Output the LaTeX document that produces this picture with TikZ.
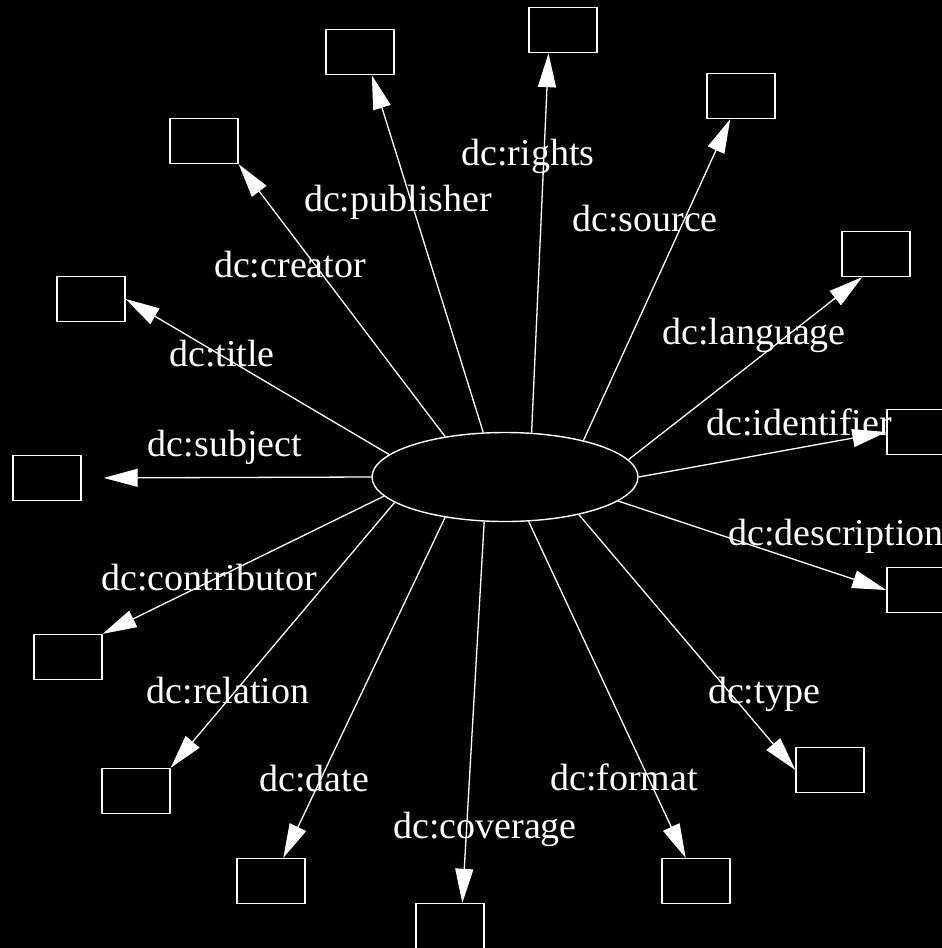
\documentclass[tikz,border=0pt]{standalone}
\usepackage{fontspec}
\setmainfont{Liberation Serif}
\usetikzlibrary{shapes.geometric,arrows.meta}
\begin{document}
\begin{tikzpicture}[x=1pt,y=-1pt,
  box/.style={draw=white,line width=1.4pt,minimum width=68pt,minimum height=45pt,inner sep=0pt},
  conn/.style={draw=white,line width=1.3pt,-{Triangle[length=34pt,width=18pt]}},
  lbl/.style={text=white,font=\fontsize{38}{40}\selectfont,inner sep=0pt,text height=0.7em,text depth=0.2em}]
\useasboundingbox (0,0) rectangle (942,948);
\fill[black] (0,0) rectangle (942,948);
\clip (0,0) rectangle (942,948);

\node[ellipse,draw=white,line width=1.4pt,minimum width=266pt,minimum height=89pt,inner sep=0pt] (e) at (505,477) {};

\node[box] (subj) at (47,478) {};
\node[box] (titl) at (91,299) {};
\node[box] (crea) at (204,141) {};
\node[box] (publ) at (360,52) {};
\node[box] (righ) at (563,30) {};
\node[box] (sour) at (741,96) {};
\node[box] (lang) at (876,254) {};
\node[box] (iden) at (921,432) {};
\node[box] (desc) at (921,590) {};
\node[box] (type) at (830,770) {};
\node[box] (form) at (696,881) {};
\node[box] (cove) at (450,926) {};
\node[box] (date) at (271,881) {};
\node[box] (rela) at (136,791) {};
\node[box] (cont) at (68,657) {};

\draw[conn,shorten >=22pt] (e.west) -- (subj.east);
\draw[conn] (e.169.8) -- (titl.east);
\draw[conn] (e.146.5) -- (crea.south east);
\draw[conn] (e.116.6) -- (publ.297.6);
\draw[conn] (e.59.4) -- (righ.238.7);
\draw[conn] (e.25) -- (sour.245.4);
\draw[conn] (e.8.8) -- (lang.239.7);
\draw[conn] (e.east) -- (iden.west);
\draw[conn] (e.348.2) -- (desc.west);
\draw[conn] (e.333.4) -- (type.west);
\draw[conn] (e.298.5) -- (form.114.6);
\draw[conn] (e.245.5) -- (cove.62.4);
\draw[conn] (e.214.5) -- (date.62.4);
\draw[conn] (e.193.9) -- (rela.north east);
\draw[conn] (e.189.3) -- (cont.north east);

\node[lbl] (lrigh) at (528,163) {dc:rights};
\node[lbl] (lpubl) at (398,209) {dc:publisher};
\node[lbl] (lsour) at (645,229) {dc:source};
\node[lbl] (lcrea) at (290,275) {dc:creator};
\node[lbl] (llang) at (754,342) {dc:language};
\node[lbl] (ltitl) at (222,364) {dc:title};
\node[lbl] (liden) at (799,433) {dc:identifier};
\node[lbl] (lsubj) at (225,454) {dc:subject};
\node[lbl] (ldesc) at (836,543) {dc:description};
\node[lbl] (lcont) at (209,588) {dc:contributor};
\node[lbl] (lrela) at (228,701) {dc:relation};
\node[lbl] (ltype) at (764,701) {dc:type};
\node[lbl] (ldate) at (314,789) {dc:date};
\node[lbl] (lform) at (624,788) {dc:format};
\node[lbl] (lcove) at (485,836) {dc:coverage};
\end{tikzpicture}
\end{document}
